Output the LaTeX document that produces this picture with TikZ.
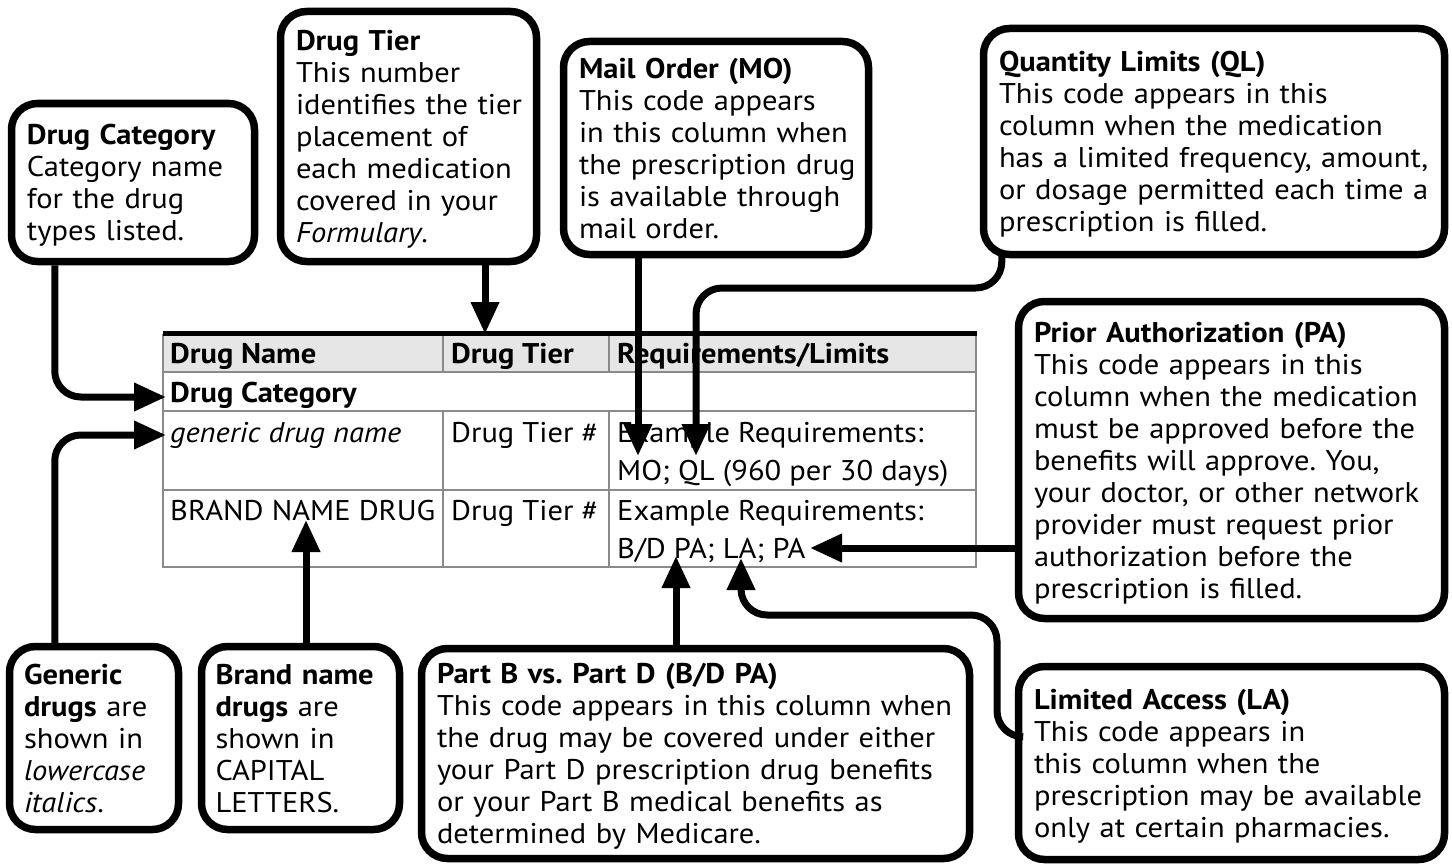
\documentclass[tikz,border=0pt]{standalone}
\usepackage{fontspec}
\setmainfont{PT Sans}[FakeStretch=1.07]
\usetikzlibrary{arrows.meta}
\definecolor{headgray}{HTML}{E6E6E6}
\definecolor{rulegray}{HTML}{8A8A8A}
\frenchspacing
\newcommand{\calltext}[1]{\noindent\raisebox{-4pt}[\height][\depth]{\begin{tabular}{@{}l@{}}#1\end{tabular}}}
\begin{document}
\begin{tikzpicture}[x=1pt, y=-1pt, every node/.style={font=\fontsize{28.5}{32}\selectfont},
  callout/.style={draw,line width=7.5pt,rounded corners=26pt,fill=white,inner xsep=0pt,inner ysep=0pt},
  conn/.style={line width=7pt,rounded corners=26pt},
  tip/.style={-{Triangle[length=32pt,width=27pt]}},
  cell/.style={anchor=base west,inner sep=0pt}]
\useasboundingbox (0,0) rectangle (1452,867);
% callouts
\node[callout,minimum width=243pt,minimum height=158pt,text width=212pt] (cat) at (133,182.5)
  {\calltext{\textbf{Drug Category}\\Category name\\for the drug\\types listed.}};
\node[callout,minimum width=256pt,minimum height=250pt,text width=225pt] (tier) at (408.5,136.5)
  {\calltext{\textbf{Drug Tier}\\This number\\identifies the tier\\placement of\\each medication\\covered in your\\\textit{Formulary}.}};
\node[callout,minimum width=305pt,minimum height=213pt,text width=274pt] (mo) at (716,148)
  {\calltext{\textbf{Mail Order (MO)}\\This code appears\\in this column when\\the prescription drug\\is available through\\mail order.}};
\node[callout,minimum width=461pt,minimum height=226pt,text width=430pt] (ql) at (1214,141.5)
  {\calltext{\textbf{Quantity Limits (QL)}\\This code appears in this\\column when the medication\\has a limited frequency, amount,\\or dosage permitted each time a\\prescription is filled.}};
\node[callout,minimum width=426pt,minimum height=317pt,text width=395pt] (pa) at (1231.5,460)
  {\calltext{\textbf{Prior Authorization (PA)}\\This code appears in this\\column when the medication\\must be approved before the\\benefits will approve. You,\\your doctor, or other network\\provider must request prior\\authorization before the\\prescription is filled.}};
\node[callout,minimum width=426pt,minimum height=193pt,text width=395pt] (la) at (1231.5,763)
  {\calltext{\textbf{Limited Access (LA)}\\This code appears in\\this column when the\\prescription may be available\\only at certain pharmacies.}};
\node[callout,minimum width=548pt,minimum height=210pt,text width=517pt] (bd) at (695.5,753.5)
  {\calltext{\textbf{Part B vs. Part D (B/D PA)}\\This code appears in this column when\\the drug may be covered under either\\your Part D prescription drug benefits\\or your Part B medical benefits as\\determined by Medicare.}};
\node[callout,minimum width=169pt,minimum height=183pt,text width=140pt] (gen) at (94,738)
  {\calltext{\textbf{Generic}\\\textbf{drugs} are\\shown in\\\textit{lowercase}\\\textit{italics}.}};
\node[callout,minimum width=198pt,minimum height=183pt,text width=170pt] (brand) at (300.5,738)
  {\calltext{\textbf{Brand name}\\\textbf{drugs} are\\shown in\\CAPITAL\\LETTERS.}};
% table
\fill[headgray] (163,335) rectangle (976,372);
\draw[rulegray,line width=1.5pt] (163,335) rectangle (976,567);
\foreach \yy in {372,411,490} \draw[rulegray,line width=1.5pt] (163,\yy) -- (976,\yy);
\foreach \xx in {443,609} {
  \draw[rulegray,line width=1.5pt] (\xx,335) -- (\xx,372);
  \draw[rulegray,line width=1.5pt] (\xx,411) -- (\xx,567);
}
\draw[line width=5pt] (163,333) -- (977,333);
\node[cell] (hname) at (170,363) {\textbf{Drug Name}};
\node[cell] (htier) at (451,363) {\textbf{Drug Tier}};
\node[cell] (hreq) at (617,363) {\textbf{Requirements/Limits}};
\node[cell] (catrow) at (170,402) {\textbf{Drug Category}};
\node[cell] (gname) at (170,442) {\textit{generic drug name}};
\node[cell] (gtier) at (451,442) {Drug Tier \#};
\node[cell] (greq) at (617,442) {Example Requirements:};
\node[cell] (gcodes) at (617,480) {MO; QL (960 per 30 days)};
\node[cell] (bname) at (170,520) {BRAND NAME DRUG};
\node[cell] (btier) at (451,520) {Drug Tier \#};
\node[cell] (breq) at (617,520) {Example Requirements:};
\node[cell] (bcodes) at (617,558) {B/D PA; LA; PA};
% arrow tips
\coordinate (catTip) at (166,397);
\coordinate (genTip) at (166,435);
\coordinate (tierTip) at (485,334);
\coordinate (moTip) at (638,456);
\coordinate (qlTip) at (696,456);
\coordinate (brandTip) at (306,520);
\coordinate (bdTip) at (676,556);
\coordinate (laTip) at (741,558);
\coordinate (paTip) at (810,548);
% connectors
\draw[conn,tip] ([xshift=47pt]cat.south west) |- (catTip);
\draw[conn,tip] ([xshift=49pt]gen.north west) |- (genTip);
\draw[conn,tip] (tier.south -| tierTip) -- (tierTip);
\draw[conn,tip] (mo.south -| moTip) -- (moTip);
\draw[conn,tip] ([xshift=22pt,yshift=3pt]ql.south west) |- (850,288) -| (qlTip);
\draw[conn,tip] (pa.west |- paTip) -- (paTip);
\draw[conn,tip] (bd.north -| bdTip) -- (bdTip);
\draw[conn,tip] (brand.north -| brandTip) -- (brandTip);
\draw[conn,tip] ([yshift=-74pt]la.north west) -| (997,615) -| (laTip);
\end{tikzpicture}
\end{document}
